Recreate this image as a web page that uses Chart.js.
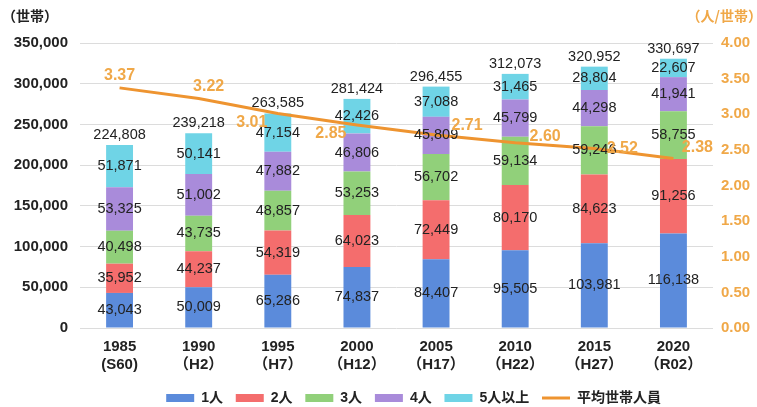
<!DOCTYPE html>
<html>
<head>
<meta charset="utf-8">
<script src="https://cdn.jsdelivr.net/npm/chart.js@4"></script>
<style>
  html, body { margin: 0; padding: 0; background: #fff; }
  #wrap { width: 757px; height: 407px; }
</style>
</head>
<body>
<div id="wrap"><canvas id="myChart"></canvas></div>
<script>
const years = [['1985', '(S60)'], ['1990', '（H2）'], ['1995', '（H7）'], ['2000', '（H12）'],
  ['2005', '（H17）'], ['2010', '（H22）'], ['2015', '（H27）'], ['2020', '（R02）']];
const onePerson = [43043, 50009, 65286, 74837, 84407, 95505, 103981, 116138];
const twoPerson = [35952, 44237, 54319, 64023, 72449, 80170, 84623, 91256];
const threePerson = [40498, 43735, 48857, 53253, 56702, 59134, 59246, 58755];
const fourPerson = [53325, 51002, 47882, 46806, 45809, 45799, 44298, 41941];
const fivePlus = [51871, 50141, 47154, 42426, 37088, 31465, 28804, 22607];
const totals = [224808, 239218, 263585, 281424, 296455, 312073, 320952, 330697];
const avgSize = [3.37, 3.22, 3.01, 2.85, 2.71, 2.60, 2.52, 2.38];

// where each average label sits relative to its point (px)
const avgLabelShift = [[0, -12], [10, -12], [-26, 9], [-26, 9], [31, -9], [30, -6], [28, 0], [24, -11]];

const FONT = '"Liberation Sans", Arial, "Noto Sans CJK JP", sans-serif';
const ORANGE = '#ee9430';
const ORANGE_TXT = '#f0a848';

const labelPlugin = {
  id: 'labels',
  afterLayout(chart) {
    // legend sits lower and a bit right of centre in the original
    chart.legend.left += 39;
    chart.legend.right += 39;
    chart.legend.top += 8;
    chart.legend.bottom += 8;
  },
  afterDatasetsDraw(chart) {
    const ctx = chart.ctx;
    ctx.save();
    ctx.textAlign = 'center';
    ctx.textBaseline = 'middle';
    ctx.font = '14.5px ' + FONT;
    ctx.fillStyle = '#222';
    for (let d = 0; d < 5; d++) {
      const meta = chart.getDatasetMeta(d);
      meta.data.forEach((bar, i) => {
        const v = chart.data.datasets[d].data[i];
        ctx.fillText(v.toLocaleString('en-US'), bar.x, (bar.y + bar.base) / 2);
      });
    }
    const top = chart.getDatasetMeta(4);
    top.data.forEach((bar, i) => {
      ctx.fillText(totals[i].toLocaleString('en-US'), bar.x, bar.y - 10);
    });
    const line = chart.getDatasetMeta(5);
    ctx.font = 'bold 16px ' + FONT;
    ctx.fillStyle = ORANGE_TXT;
    line.data.forEach((pt, i) => {
      const s = avgLabelShift[i];
      ctx.fillText(avgSize[i].toFixed(2), pt.x + s[0], pt.y + s[1]);
    });
    // axis titles
    ctx.font = 'bold 14px "Noto Sans CJK JP", sans-serif';
    ctx.fillStyle = '#222';
    ctx.textAlign = 'left';
    ctx.fillText('（世帯）', 2, 16);
    ctx.fillStyle = ORANGE_TXT;
    ctx.textAlign = 'right';
    ctx.fillText('（人/世帯）', 762, 16);
    ctx.restore();
  }
};

new Chart(document.getElementById('myChart').getContext('2d'), {
  type: 'bar',
  data: {
    labels: years,
    datasets: [
      { label: '1人', data: onePerson, backgroundColor: '#5b8bdb', stack: 's', pointStyle: 'rect' },
      { label: '2人', data: twoPerson, backgroundColor: '#f46d6d', stack: 's', pointStyle: 'rect' },
      { label: '3人', data: threePerson, backgroundColor: '#91d07a', stack: 's', pointStyle: 'rect' },
      { label: '4人', data: fourPerson, backgroundColor: '#a98bda', stack: 's', pointStyle: 'rect' },
      { label: '5人以上', data: fivePlus, backgroundColor: '#6fd4e6', stack: 's', pointStyle: 'rect' },
      {
        label: '平均世帯人員', type: 'line', data: avgSize, yAxisID: 'y2', order: -1,
        borderColor: ORANGE, backgroundColor: ORANGE, borderWidth: 3,
        pointRadius: 0, pointStyle: 'line', tension: 0
      }
    ]
  },
  options: {
    responsive: true,
    maintainAspectRatio: false,
    animation: false,
    layout: { padding: { top: 43, left: 0, right: 0, bottom: 0 } },
    datasets: { bar: { barPercentage: 0.34, categoryPercentage: 1 } },
    plugins: {
      tooltip: { enabled: false },
      legend: {
        position: 'bottom',
        labels: {
          usePointStyle: true,
          pointStyleWidth: 28,
          boxHeight: 8,
          padding: 5,
          color: '#222',
          sort: (a, b) => a.datasetIndex - b.datasetIndex,
          font: { family: FONT, size: 14, weight: 'bold' },
          generateLabels(chart) {
            const items = Chart.defaults.plugins.legend.labels.generateLabels(chart);
            items.forEach(it => { it.text = it.text + '  '; });
            return items;
          }
        }
      }
    },
    scales: {
      x: {
        stacked: true,
        afterFit(s) { s.height += 2; },
        grid: { display: false },
        border: { display: false },
        ticks: { color: '#222', font: { family: FONT, size: 15, weight: 'bold', lineHeight: 1.2 }, padding: 2 }
      },
      y: {
        stacked: true,
        min: 0, max: 350000,
        afterFit(s) { s.width = 80; },
        grid: { color: '#dcdcdc', drawTicks: false },
        border: { display: false },
        ticks: {
          stepSize: 50000, padding: 12, color: '#222',
          font: { family: FONT, size: 15, weight: 'bold' },
          callback: v => v.toLocaleString('en-US')
        }
      },
      y2: {
        position: 'right',
        min: 0, max: 4,
        afterFit(s) { s.width = 44; },
        grid: { display: false, drawTicks: false },
        border: { display: false },
        ticks: {
          stepSize: 0.5, padding: 8, color: ORANGE_TXT,
          font: { family: FONT, size: 15, weight: 'bold' },
          callback: v => v.toFixed(2)
        }
      }
    }
  },
  plugins: [labelPlugin]
});
</script>
</body>
</html>
